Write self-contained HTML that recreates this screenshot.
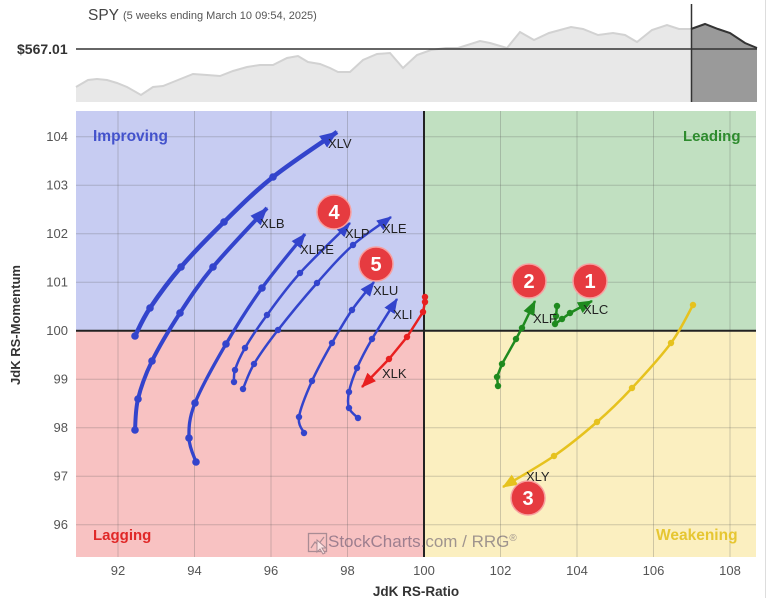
<!DOCTYPE html>
<html><head><meta charset="utf-8">
<style>
html,body{margin:0;padding:0;background:#fff;}
svg{display:block;}
text{font-family:"Liberation Sans",sans-serif;}
</style></head>
<body>
<svg width="768" height="602" viewBox="0 0 768 602" xmlns="http://www.w3.org/2000/svg">
<defs>
  <marker id="aB" viewBox="0 -7 18 14" markerWidth="18" markerHeight="14" refX="17" refY="0" orient="auto" markerUnits="userSpaceOnUse"><path d="M0,-7 L18,0 L0,7 z" fill="#3344cc"/></marker>
  <marker id="aBs" viewBox="0 -6 15 12" markerWidth="15" markerHeight="12" refX="14" refY="0" orient="auto" markerUnits="userSpaceOnUse"><path d="M0,-6 L15,0 L0,6 z" fill="#3344cc"/></marker>
  <marker id="aR" viewBox="0 -6 15 12" markerWidth="15" markerHeight="12" refX="14" refY="0" orient="auto" markerUnits="userSpaceOnUse"><path d="M0,-6 L15,0 L0,6 z" fill="#e82020"/></marker>
  <marker id="aG" viewBox="0 -6 15 12" markerWidth="15" markerHeight="12" refX="14" refY="0" orient="auto" markerUnits="userSpaceOnUse"><path d="M0,-6 L15,0 L0,6 z" fill="#1f8a1f"/></marker>
  <marker id="aY" viewBox="0 -6 15 12" markerWidth="15" markerHeight="12" refX="14" refY="0" orient="auto" markerUnits="userSpaceOnUse"><path d="M0,-6 L15,0 L0,6 z" fill="#e6c21e"/></marker>
  <marker id="dB" viewBox="-5 -5 10 10" markerWidth="10" markerHeight="10" refX="0" refY="0" markerUnits="userSpaceOnUse"><circle r="3.8" fill="#3344cc"/></marker>
  <marker id="dBs" viewBox="-5 -5 10 10" markerWidth="10" markerHeight="10" refX="0" refY="0" markerUnits="userSpaceOnUse"><circle r="3.2" fill="#3344cc"/></marker>
  <marker id="dR" viewBox="-5 -5 10 10" markerWidth="10" markerHeight="10" refX="0" refY="0" markerUnits="userSpaceOnUse"><circle r="3.2" fill="#e82020"/></marker>
  <marker id="dG" viewBox="-5 -5 10 10" markerWidth="10" markerHeight="10" refX="0" refY="0" markerUnits="userSpaceOnUse"><circle r="3.2" fill="#1f8a1f"/></marker>
  <marker id="dY" viewBox="-5 -5 10 10" markerWidth="10" markerHeight="10" refX="0" refY="0" markerUnits="userSpaceOnUse"><circle r="3.2" fill="#e6c21e"/></marker>
</defs>

<!-- SPY header panel -->
<text x="88" y="20" font-size="15.5" fill="#444">SPY</text>
<text x="123" y="19" font-size="11" fill="#555">(5 weeks ending March 10 09:54, 2025)</text>
<text x="17" y="54" font-size="14" fill="#333" font-weight="bold">$567.01</text>

<path d="M76,102 L76,87 L88,80 L97,79 L107,80 L117,83 L127,87 L141,95 L153,87 L163,86 L173,82 L193,74 L207,75 L220,76 L233,71 L247,67 L260,65 L273,65 L287,58 L298,56 L308,62 L320,64 L330,68 L338,72 L350,72 L363,60 L377,54 L390,53 L403,68 L417,55 L431,50 L446,48 L458,48 L480,41 L490,43 L507,48 L520,32 L534,40 L549,33 L571,27 L583,29 L598,35 L613,33 L625,35 L637,42 L652,30 L667,25 L679,29 L691,29 L691,102 Z" fill="#e8e8e8"/>
<path d="M76,87 L88,80 L97,79 L107,80 L117,83 L127,87 L141,95 L153,87 L163,86 L173,82 L193,74 L207,75 L220,76 L233,71 L247,67 L260,65 L273,65 L287,58 L298,56 L308,62 L320,64 L330,68 L338,72 L350,72 L363,60 L377,54 L390,53 L403,68 L417,55 L431,50 L446,48 L458,48 L480,41 L490,43 L507,48 L520,32 L534,40 L549,33 L571,27 L583,29 L598,35 L613,33 L625,35 L637,42 L652,30 L667,25 L679,29 L691,29" fill="none" stroke="#d2d2d2" stroke-width="2"/>
<path d="M691,102 L691,29 L705,24 L718,29 L730,33 L745,43 L757,48 L757,102 Z" fill="#9a9a9a"/>
<path d="M691,29 L705,24 L718,29 L730,33 L745,43 L757,48" fill="none" stroke="#333" stroke-width="2"/>
<line x1="76" y1="49" x2="757" y2="49" stroke="#333" stroke-width="1.6"/>
<line x1="691.5" y1="4" x2="691.5" y2="102" stroke="#333" stroke-width="1.5"/>

<!-- Quadrants -->
<rect x="76" y="111" width="348" height="219.7" fill="#c7ccf2"/>
<rect x="424" y="111" width="332" height="219.7" fill="#c1e0c1"/>
<rect x="76" y="330.7" width="348" height="226.3" fill="#f8c2c2"/>
<rect x="424" y="330.7" width="332" height="226.3" fill="#fbefc0"/>

<!-- Grid -->
<g stroke="rgba(90,90,90,0.28)" stroke-width="1">
  <line x1="118" y1="111" x2="118" y2="557"/>
  <line x1="194.5" y1="111" x2="194.5" y2="557"/>
  <line x1="271" y1="111" x2="271" y2="557"/>
  <line x1="347.5" y1="111" x2="347.5" y2="557"/>
  <line x1="500.5" y1="111" x2="500.5" y2="557"/>
  <line x1="577" y1="111" x2="577" y2="557"/>
  <line x1="653.5" y1="111" x2="653.5" y2="557"/>
  <line x1="730" y1="111" x2="730" y2="557"/>
  <line x1="76" y1="136.7" x2="756" y2="136.7"/>
  <line x1="76" y1="185.2" x2="756" y2="185.2"/>
  <line x1="76" y1="233.7" x2="756" y2="233.7"/>
  <line x1="76" y1="282.2" x2="756" y2="282.2"/>
  <line x1="76" y1="379.2" x2="756" y2="379.2"/>
  <line x1="76" y1="427.7" x2="756" y2="427.7"/>
  <line x1="76" y1="476.2" x2="756" y2="476.2"/>
  <line x1="76" y1="524.7" x2="756" y2="524.7"/>
</g>
<line x1="424" y1="111" x2="424" y2="557" stroke="#222" stroke-width="2"/>
<line x1="76" y1="330.7" x2="756" y2="330.7" stroke="#222" stroke-width="2"/>
<line x1="765.5" y1="0" x2="765.5" y2="598" stroke="#ddd" stroke-width="1"/>

<!-- Quadrant labels -->
<text x="93" y="141" font-size="15.5" font-weight="bold" fill="#4352cc">Improving</text>
<text x="683" y="141" font-size="15" font-weight="bold" fill="#2e8b2e">Leading</text>
<text x="93" y="540" font-size="15" font-weight="bold" fill="#e02828">Lagging</text>
<text x="656" y="540" font-size="15.5" font-weight="bold" fill="#e6c632">Weakening</text>

<!-- Watermark -->
<g opacity="0.55">
  <rect x="308.5" y="533.5" width="18" height="18" fill="none" stroke="#6a6070" stroke-width="1.3"/>
  <path d="M311,548 L315,542 L318,545 L324,537" fill="none" stroke="#6a6070" stroke-width="1.2"/>
  <path d="M317,540 L317,552 L320,549 L323,554 L325,553 L322,548 L326,548 Z" fill="#fff" stroke="#6a6070" stroke-width="1"/>
</g>
<text x="328" y="547" font-size="17" fill="rgba(75,65,95,0.52)">StockCharts<tspan>.com / RRG</tspan><tspan font-size="10" dy="-6">®</tspan></text>

<!-- Axis ticks -->
<g font-size="13" fill="#555" text-anchor="end">
  <text x="68" y="141.2">104</text>
  <text x="68" y="189.7">103</text>
  <text x="68" y="238.2">102</text>
  <text x="68" y="286.7">101</text>
  <text x="68" y="335.2">100</text>
  <text x="68" y="383.7">99</text>
  <text x="68" y="432.2">98</text>
  <text x="68" y="480.7">97</text>
  <text x="68" y="529.2">96</text>
</g>
<g font-size="13" fill="#555" text-anchor="middle">
  <text x="118" y="575">92</text>
  <text x="194.5" y="575">94</text>
  <text x="271" y="575">96</text>
  <text x="347.5" y="575">98</text>
  <text x="424" y="575">100</text>
  <text x="500.5" y="575">102</text>
  <text x="577" y="575">104</text>
  <text x="653.5" y="575">106</text>
  <text x="730" y="575">108</text>
</g>
<text x="416" y="596" font-size="13.5" font-weight="bold" fill="#333" text-anchor="middle">JdK RS-Ratio</text>
<text transform="translate(20,325) rotate(-90)" font-size="13" font-weight="bold" fill="#333" text-anchor="middle">JdK RS-Momentum</text>

<!-- Tails -->
<g fill="none" stroke-linejoin="round">
  <path d="M135,336 C137.5,331.3 142.3,319.5 150,308 C157.7,296.5 168.7,281.3 181,267 C193.3,252.7 208.7,237 224,222 C239.3,207 254.2,192 273,177 C291.8,162 326.3,139.5 337,132" stroke="#3344cc" stroke-width="4.5" marker-start="url(#dB)" marker-mid="url(#dB)" marker-end="url(#aB)"/>
  <path d="M135,430 C135.5,424.8 135.2,410.5 138,399 C140.8,387.5 145,375.3 152,361 C159,346.7 169.8,328.7 180,313 C190.2,297.3 198.5,284.5 213,267 C227.5,249.5 258,217.8 267,208" stroke="#3344cc" stroke-width="4" marker-start="url(#dB)" marker-mid="url(#dB)" marker-end="url(#aB)"/>
  <path d="M196,462 C194.8,458 189.2,447.8 189,438 C188.8,428.2 188.8,418.7 195,403 C201.2,387.3 214.8,363.2 226,344 C237.2,324.8 248.8,306.3 262,288 C275.2,269.7 297.8,243 305,234" stroke="#3344cc" stroke-width="3.3" marker-start="url(#dB)" marker-mid="url(#dB)" marker-end="url(#aBs)"/>
  <path d="M234,382 C234.2,380 233.2,375.7 235,370 C236.8,364.3 239.7,357.2 245,348 C250.3,338.8 257.8,327.5 267,315 C276.2,302.5 286.2,288.3 300,273 C313.8,257.7 341.7,231.3 350,223" stroke="#3344cc" stroke-width="2.5" marker-start="url(#dBs)" marker-mid="url(#dBs)" marker-end="url(#aBs)"/>
  <path d="M243,389 C244.8,384.8 248.2,373.8 254,364 C259.8,354.2 267.5,343.5 278,330 C288.5,316.5 304.5,297.2 317,283 C329.5,268.8 340.7,256 353,245 C365.3,234 384.7,221.7 391,217" stroke="#3344cc" stroke-width="2.5" marker-start="url(#dBs)" marker-mid="url(#dBs)" marker-end="url(#aBs)"/>
  <path d="M304,433 C303.2,430.3 297.7,425.7 299,417 C300.3,408.3 306.5,393.3 312,381 C317.5,368.7 325.3,354.8 332,343 C338.7,331.2 345,320.2 352,310 C359,299.8 370.3,286.7 374,282" stroke="#3344cc" stroke-width="2.5" marker-start="url(#dBs)" marker-mid="url(#dBs)" marker-end="url(#aBs)"/>
  <path d="M358,418 C356.5,416.3 350.5,412.3 349,408 C347.5,403.7 347.7,398.7 349,392 C350.3,385.3 353.2,376.8 357,368 C360.8,359.2 365.3,350.5 372,339 C378.7,327.5 392.8,305.7 397,299" stroke="#3344cc" stroke-width="2.5" marker-start="url(#dBs)" marker-mid="url(#dBs)" marker-end="url(#aBs)"/>
  <polyline points="425,297 425,302 423,312 407,337 389,359 362,387" stroke="#e82020" stroke-width="2.5" marker-start="url(#dR)" marker-mid="url(#dR)" marker-end="url(#aR)"/>
  <polyline points="498,386 497,377 502,364 516,339 522,328 535,301" stroke="#1f8a1f" stroke-width="2.5" marker-start="url(#dG)" marker-mid="url(#dG)" marker-end="url(#aG)"/>
  <polyline points="557,306 556,316 555,324 562,319 570,313 592,301" stroke="#1f8a1f" stroke-width="2.5" marker-start="url(#dG)" marker-mid="url(#dG)" marker-end="url(#aG)"/>
  <path d="M693,305 C689.3,311.3 681.2,329.2 671,343 C660.8,356.8 644.3,374.8 632,388 C619.7,401.2 610,410.7 597,422 C584,433.3 569.7,445.2 554,456 C538.3,466.8 511.5,481.8 503,487" stroke="#e6c21e" stroke-width="2.5" marker-start="url(#dY)" marker-mid="url(#dY)" marker-end="url(#aY)"/>
</g>

<!-- Tail labels -->
<g font-size="13" fill="#222">
  <text x="328" y="148">XLV</text>
  <text x="260" y="228">XLB</text>
  <text x="300" y="254">XLRE</text>
  <text x="345" y="238">XLP</text>
  <text x="382" y="233">XLE</text>
  <text x="373" y="295">XLU</text>
  <text x="393" y="319">XLI</text>
  <text x="382" y="378">XLK</text>
  <text x="533" y="323">XLF</text>
  <text x="583" y="314">XLC</text>
  <text x="526" y="481">XLY</text>
</g>

<!-- Numbered callouts -->
<g font-size="20" font-weight="bold" fill="#fff" text-anchor="middle">
  <circle cx="590" cy="281" r="17" fill="#e63b40" stroke="#f7a0a0" stroke-width="1.5"/>
  <text x="590" y="288">1</text>
  <circle cx="529" cy="281" r="17" fill="#e63b40" stroke="#f7a0a0" stroke-width="1.5"/>
  <text x="529" y="288">2</text>
  <circle cx="528" cy="498" r="17" fill="#e63b40" stroke="#f7a0a0" stroke-width="1.5"/>
  <text x="528" y="505">3</text>
  <circle cx="334" cy="212" r="17" fill="#e63b40" stroke="#f7a0a0" stroke-width="1.5"/>
  <text x="334" y="219">4</text>
  <circle cx="376" cy="264" r="17" fill="#e63b40" stroke="#f7a0a0" stroke-width="1.5"/>
  <text x="376" y="271">5</text>
</g>
</svg>
</body></html>
